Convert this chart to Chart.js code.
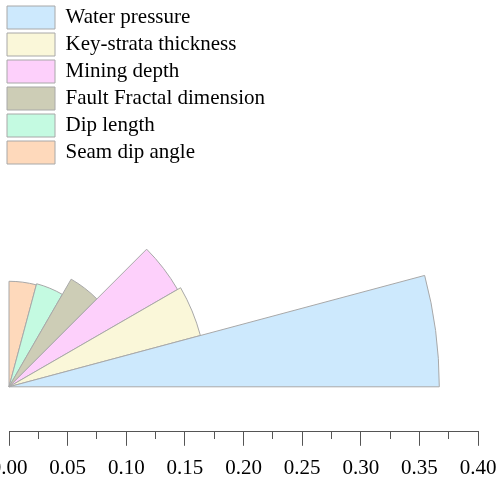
<!DOCTYPE html>
<html>
<head>
<meta charset="utf-8">
<script src="https://cdn.jsdelivr.net/npm/chart.js@4/dist/chart.umd.min.js"></script>
<style>
html,body{margin:0;padding:0;background:#fff;}
#wrap{width:498px;height:481px;position:relative;}
</style>
</head>
<body>
<div id="wrap"><canvas id="c" width="498" height="481"></canvas></div>
<script>
// ---- data (legend order) ----
const factors = ['Water pressure', 'Key-strata thickness', 'Mining depth', 'Fault Fractal dimension', 'Dip length', 'Seam dip angle'];
const weights = [0.367, 0.169, 0.166, 0.106, 0.091, 0.090];
const fillColors = ['#cde9fd', '#faf7d9', '#fdd0fb', '#cdcdb6', '#c4fae1', '#fed9bb'];
const sectorAngle = 15;      // degrees per sector
const axisMin = 0.00;
const axisMax = 0.40;
const majorStep = 0.05;
const minorStep = 0.025;

const serif = "'Liberation Serif', 'Times New Roman', serif";
const isMajor = v => Math.round(v * 1000) % Math.round(majorStep * 1000) === 0;

// sectors are laid clockwise from the vertical, so feed them reversed
const drawLabels = factors.slice().reverse();
const drawValues = weights.slice().reverse();
const drawColors = fillColors.slice().reverse();

const fanOrigin = {
  id: 'fanOrigin',
  afterLayout(chart) {
    const x = chart.scales.x, r = chart.scales.r;
    const x0 = x.getPixelForValue(axisMin);
    r.xCenter = x0;
    r.yCenter = x.top - 45;
    r.drawingArea = x.getPixelForValue(r.max) - x0;
    chart.legend.left = chart.chartArea.left - 6;
    chart.legend.top = 2;
  }
};

new Chart(document.getElementById('c'), {
  type: 'polarArea',
  data: {
    labels: drawLabels,
    datasets: [{
      data: drawValues,
      backgroundColor: drawColors,
      borderColor: '#a8a8a8',
      borderWidth: 1,
      angle: sectorAngle,
      clip: false
    }]
  },
  plugins: [fanOrigin],
  options: {
    responsive: false,
    devicePixelRatio: 1,
    animation: false,
    events: [],
    layout: { padding: { left: 9, right: 20, top: 0, bottom: 0 } },
    scales: {
      r: {
        min: 0,
        max: axisMax,
        startAngle: 0,
        grid: { display: false },
        angleLines: { display: false },
        ticks: { display: false },
        pointLabels: { display: false }
      },
      x: {
        type: 'linear',
        position: 'bottom',
        min: axisMin,
        max: axisMax,
        afterFit(s) { s.paddingLeft = 0; s.paddingRight = 0; s.height -= 10; },
        border: { display: true, color: '#555', width: 1 },
        grid: {
          drawOnChartArea: false,
          drawTicks: true,
          tickLength: 14,
          tickColor: '#555',
          tickWidth: 1,
          tickBorderDash: ctx => (ctx.tick && isMajor(ctx.tick.value)) ? [] : [7, 30]
        },
        ticks: {
          stepSize: minorStep,
          autoSkip: false,
          maxRotation: 0,
          minRotation: 0,
          padding: 10,
          color: '#000',
          font: { family: serif, size: 21 },
          callback: v => isMajor(v) ? Number(v).toFixed(2) : ''
        }
      }
    },
    plugins: {
      tooltip: { enabled: false },
      legend: {
        display: true,
        position: 'chartArea',
        align: 'start',
        reverse: true,
        labels: {
          boxWidth: 48,
          boxHeight: 23,
          padding: 4,
          color: '#000',
          font: { family: serif, size: 21 }
        }
      }
    }
  }
});
</script>
</body>
</html>
